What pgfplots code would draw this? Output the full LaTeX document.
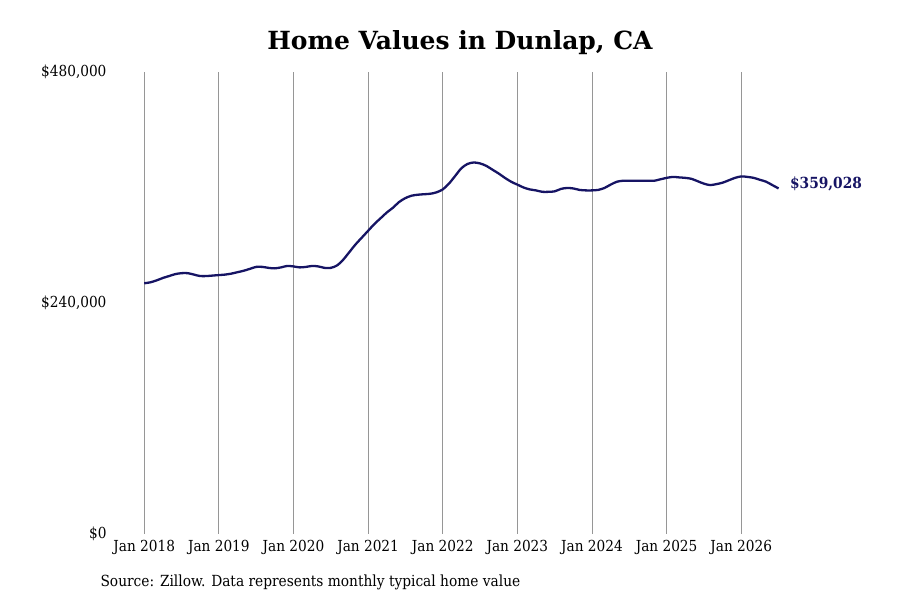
\documentclass[border=0pt]{standalone}
\usepackage{fontspec}
\setmainfont{DejaVu Serif Condensed}
\newfontfamily\titlefont{DejaVu Serif}
\usepackage{pgfplots}
\pgfplotsset{compat=1.18}
\definecolor{navy}{RGB}{22,20,100}
\definecolor{gridgray}{RGB}{150,150,150}

% months since Jan 2018, value in dollars
\pgfplotstableread{
m v
0 260500
1 261500
2 263500
3 266000
4 268000
5 270000
6 271000
7 271000
8 269500
9 268000
10 268000
11 268500
12 269000
13 269500
14 270500
15 272000
16 273500
17 275500
18 277500
19 277500
20 276500
21 276000
22 277000
23 278500
24 278000
25 277000
26 277500
27 278500
28 278000
29 276500
30 276500
31 279000
32 285000
33 293000
34 301000
35 308000
36 315000
37 322000
38 328000
39 334000
40 339000
41 345000
42 349000
43 351500
44 352500
45 353000
46 353500
47 355000
48 358000
49 364000
50 372000
51 380000
52 384500
53 386000
54 385000
55 382500
56 378500
57 374500
58 370000
59 366000
60 363000
61 360000
62 358000
63 357000
64 355500
65 355500
66 356000
67 358500
68 359500
69 359000
70 357500
71 357000
72 357000
73 357500
74 359500
75 363000
76 366000
77 367000
78 367000
79 367000
80 367000
81 367000
82 367000
83 368500
84 370000
85 371000
86 370500
87 370000
88 369000
89 366500
90 364000
91 362500
92 363500
93 365000
94 367500
95 370000
96 371500
97 371000
98 370000
99 368000
100 366000
101 362500
102 359028
}\homevalues

\begin{document}
\begin{tikzpicture}[x=1pt,y=1pt]
\useasboundingbox (0,0) rectangle (900,600);
\node[font=\titlefont\bfseries\fontsize{25}{29}\selectfont] at (460,557) {Home Values in Dunlap, CA};
\node[anchor=west, font=\fontsize{15.3}{18}\selectfont] at (97,18) {Source: Zillow. Data represents monthly typical home value};
\begin{axis}[
    at={(110pt,66pt)}, anchor=south west,
    scale only axis,
    width=681pt, height=462pt,
    xmin=-5.5, xmax=104,
    ymin=0, ymax=480000,
    axis line style={draw=none},
    clip=false,
    scaled y ticks=false,
    xtick={0,12,...,96},
    xticklabels={Jan 2018,Jan 2019,Jan 2020,Jan 2021,Jan 2022,Jan 2023,Jan 2024,Jan 2025,Jan 2026},
    ytick={0,240000,480000},
    yticklabels={\$0,\$240{,}000,\$480{,}000},
    xmajorgrids,
    major grid style={gridgray, line width=0.8pt},
    major tick length=0pt,
    tick label style={font=\fontsize{15.2}{17}\selectfont},
    xticklabel style={yshift=-3pt},
    /pgf/number format/assume math mode=true,
]
\addplot[navy, line width=2.3pt, smooth] table[x=m, y=v] {\homevalues};
\node[anchor=west, text=navy, xshift=8pt, yshift=4pt, font=\bfseries\fontsize{15.3}{18}\selectfont] at (axis cs:102,359028) {\$359,028};
\end{axis}
\end{tikzpicture}
\end{document}
